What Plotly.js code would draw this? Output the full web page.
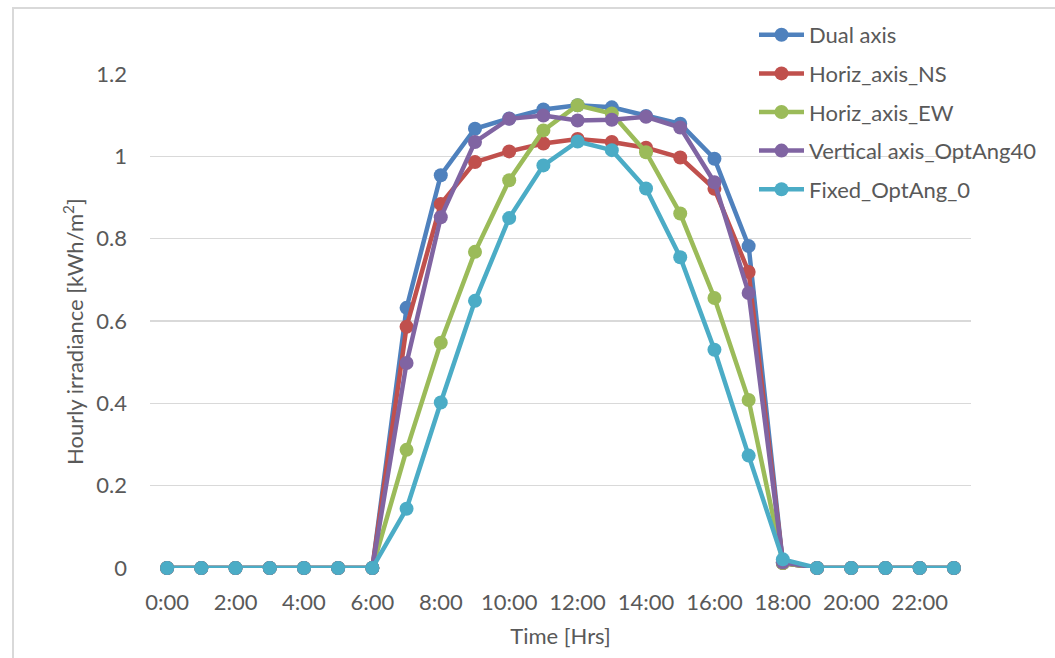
<!DOCTYPE html>
<html>
<head>
<meta charset="utf-8">
<script src="https://cdn.plot.ly/plotly-3.0.1.min.js"></script>
<style>
  html, body { margin: 0; padding: 0; background: #ffffff; }
  #wrap { position: relative; width: 1055px; height: 658px; overflow: hidden; }
  #chart { position: absolute; left: 0; top: 0; width: 1055px; height: 658px; }
  #frame { position: absolute; left: 12px; top: 7px; width: 1060px; height: 700px;
           border-left: 2px solid #d9d9d9; border-top: 2px solid #d9d9d9; pointer-events: none; }
</style>
</head>
<body>
<div id="wrap">
  <div id="chart"></div>
  <div id="frame"></div>
</div>
<script>
// Hourly time stamps of the day
const hours = ["0:00","1:00","2:00","3:00","4:00","5:00","6:00","7:00","8:00","9:00","10:00","11:00",
               "12:00","13:00","14:00","15:00","16:00","17:00","18:00","19:00","20:00","21:00","22:00","23:00"];
const tickHours = ["0:00","2:00","4:00","6:00","8:00","10:00","12:00","14:00","16:00","18:00","20:00","22:00"];

// Hourly irradiance per tracking configuration [kWh/m2]
const dualAxis      = [0,0,0,0,0,0,0,0.632,0.954,1.067,1.092,1.114,1.124,1.119,1.098,1.079,0.994,0.782,0.012,0,0,0,0,0];
const horizAxisNS   = [0,0,0,0,0,0,0,0.586,0.884,0.986,1.012,1.031,1.042,1.035,1.021,0.997,0.921,0.719,0.012,0,0,0,0,0];
const horizAxisEW   = [0,0,0,0,0,0,0,0.287,0.547,0.768,0.942,1.063,1.124,1.104,1.010,0.861,0.656,0.408,0.012,0,0,0,0,0];
const verticalOpt40 = [0,0,0,0,0,0,0,0.498,0.852,1.035,1.091,1.099,1.087,1.089,1.096,1.070,0.937,0.668,0.014,0,0,0,0,0];
const fixedOpt0     = [0,0,0,0,0,0,0,0.144,0.402,0.649,0.850,0.978,1.036,1.015,0.922,0.755,0.530,0.273,0.021,0,0,0,0,0];

const seriesNames  = ["Dual axis","Horiz_axis_NS","Horiz_axis_EW","Vertical axis_OptAng40","Fixed_OptAng_0"];
const seriesValues = [dualAxis, horizAxisNS, horizAxisEW, verticalOpt40, fixedOpt0];
const seriesColors = ["#4f81bd","#c0504d","#9bbb59","#8064a2","#4bacc6"];

const FONT = "Lato, 'Open Sans', sans-serif";
const TEXT = "#595959";
const FS = 22;

const traces = seriesNames.map((name, i) => ({
  type: "scatter",
  mode: "lines+markers",
  name: name,
  legendgroup: "g" + i,
  x: hours,
  y: seriesValues[i],
  line: { color: seriesColors[i], width: 4.5 },
  marker: { color: seriesColors[i], size: 14, line: { width: 0 } },
  cliponaxis: false
}));

const layout = {
  width: 1055,
  height: 658,
  paper_bgcolor: "#ffffff",
  plot_bgcolor: "#ffffff",
  margin: { l: 150, r: 83.5, t: 73.5, b: 89.5, autoexpand: false },
  font: { family: FONT, size: FS, color: TEXT },
  showlegend: true,
  legend: {
    xref: "container", yref: "container",
    x: 754 / 1055, y: 1 - 14 / 658,
    xanchor: "left", yanchor: "top",
    bgcolor: "rgba(0,0,0,0)",
    font: { family: FONT, size: FS, color: TEXT },
    traceorder: "grouped",
    tracegroupgap: 7,
    itemwidth: 45
  },
  xaxis: {
    type: "category",
    categoryarray: hours,
    range: [-0.5, 23.5],
    tickmode: "array",
    tickvals: tickHours,
    ticktext: tickHours,
    showgrid: false,
    zeroline: false,
    showline: false,
    ticks: "",
    ticklabelstandoff: 19,
    tickfont: { family: FONT, size: FS, color: TEXT },
    title: { text: "Time [Hrs]", font: { family: FONT, size: FS, color: TEXT }, standoff: 14 }
  },
  yaxis: {
    range: [0, 1.2],
    tickmode: "array",
    tickvals: [0, 0.2, 0.4, 0.6, 0.8, 1, 1.2],
    ticktext: ["0", "0.2", "0.4", "0.6", "0.8", "1", "1.2"],
    showgrid: true,
    gridcolor: "#d9d9d9",
    gridwidth: 1.5,
    zeroline: false,
    showline: false,
    ticks: "",
    ticklabelstandoff: 22,
    tickfont: { family: FONT, size: FS, color: TEXT }
  },
  annotations: [{
    // vertical axis title, set slightly below the plot centre
    text: "Hourly irradiance [kWh/m<sup>2</sup>]",
    textangle: -90,
    xref: "paper", yref: "paper",
    x: (74 - 150) / 821.5, y: (568.5 - 332) / 495,
    xanchor: "center", yanchor: "middle",
    showarrow: false,
    font: { family: FONT, size: FS, color: TEXT }
  }]
};

Plotly.newPlot("chart", traces, layout, { displayModeBar: false, staticPlot: true });
</script>
</body>
</html>
